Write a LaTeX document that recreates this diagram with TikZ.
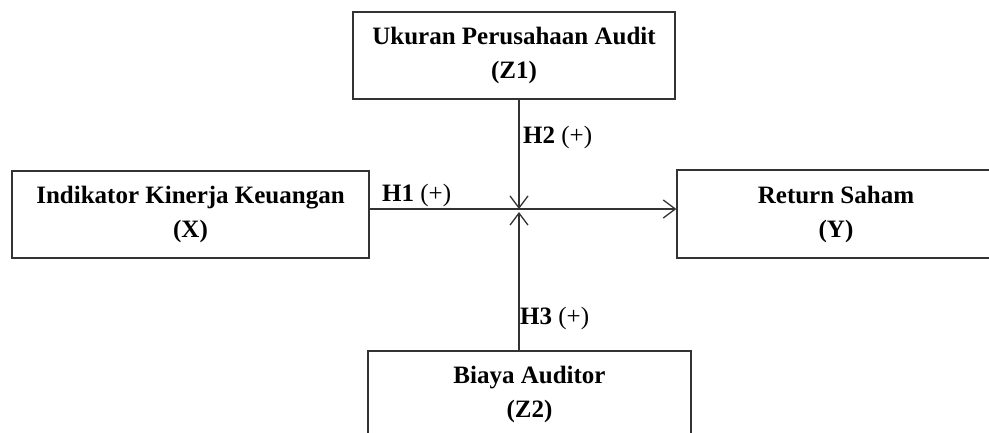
\documentclass[tikz,border=0pt]{standalone}
\usepackage{fontspec}
\setmainfont{Liberation Serif}
\usetikzlibrary{arrows.meta}
\begin{document}
\begin{tikzpicture}[x=1pt,y=-1pt,
  box/.style={draw=black!80, line width=1.3pt, rectangle, align=center,
    inner sep=0pt, font=\fontsize{25}{34}\selectfont\bfseries},
  conn/.style={draw=black!80, line width=1.3pt, -{Straight Barb[length=12pt,width=18pt,line width=1.3pt]}},
  lbl/.style={font=\fontsize{25}{30}\selectfont, inner sep=0pt}]
\useasboundingbox (0,0) rectangle (989,432);
\clip (0,0) rectangle (989,432);
\fill[white] (0,0) rectangle (989,432);
\node[box, minimum width=322pt, minimum height=87pt] (T) at (514,55.5) {Ukuran Perusahaan Audit\\(Z1)};
\node[box, minimum width=357pt, minimum height=87pt] (L) at (190.5,214.5) {Indikator Kinerja Keuangan\\(X)};
\node[box, minimum width=318pt, minimum height=88pt] (R) at (836,214) {Return Saham\\(Y)};
\node[box, minimum width=323pt, minimum height=87pt] (B) at (529.5,394.5) {Biaya Auditor\\(Z2)};
\coordinate (J) at (519,209);
\coordinate (Jb) at (519,212);
\draw[conn] (L.east |- J) -- (R.west |- J);
\draw[conn] (T.south -| J) -- (J);
\draw[conn] (B.north -| Jb) -- (Jb);
\node[lbl, anchor=west] (h1) at (382,195) {\textbf{H1} (+)};
\node[lbl, anchor=west] (h2) at (523,137) {\textbf{H2} (+)};
\node[lbl, anchor=west] (h3) at (520,318) {\textbf{H3} (+)};
\end{tikzpicture}
\end{document}
